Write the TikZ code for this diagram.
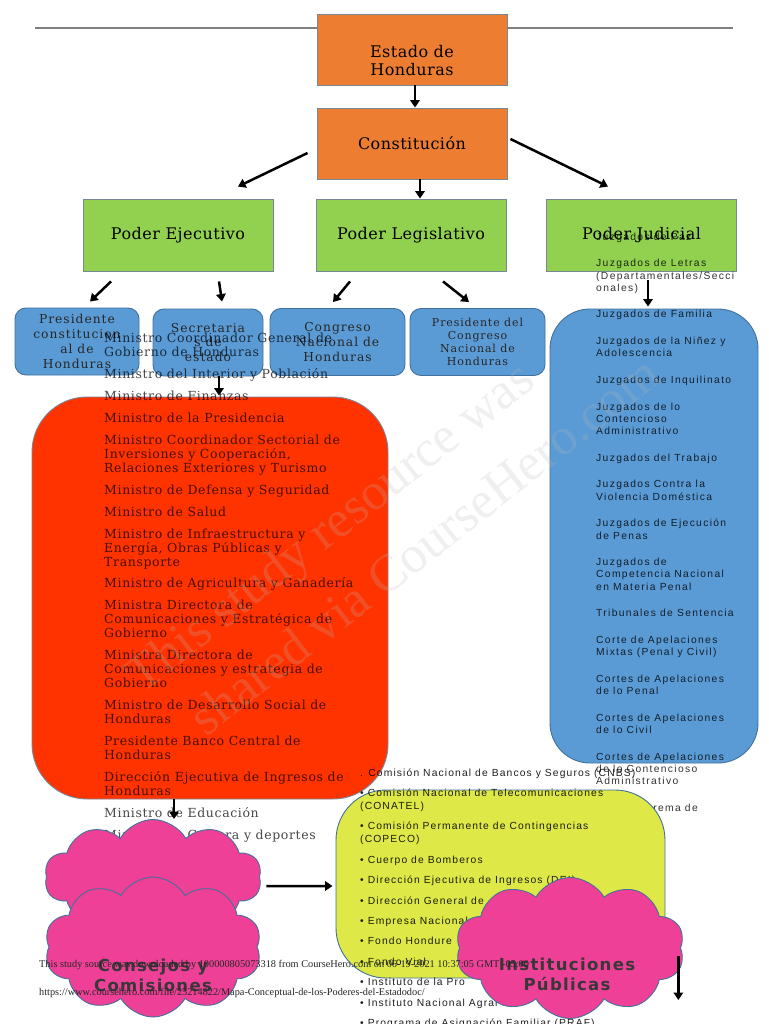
\documentclass[tikz,border=0pt]{standalone}
\usepackage{fontspec}
\setmainfont{DejaVu Serif}
\newfontfamily\titlefont[LetterSpace=3]{DejaVu Serif}
\newfontfamily\listfont[LetterSpace=5]{DejaVu Serif}
\newfontfamily\boxfont[LetterSpace=8]{DejaVu Serif}
\newfontfamily\juzfont[LetterSpace=13]{Liberation Sans}
\newfontfamily\agencyfont[LetterSpace=11]{Liberation Sans}
\newfontfamily\cloudfont[LetterSpace=8]{DejaVu Sans}
\newfontfamily\srcfont{Liberation Serif}
\usetikzlibrary{positioning,shapes.symbols,arrows.meta,calc}

\definecolor{orangefill}{RGB}{237,125,49}
\definecolor{greenfill}{RGB}{146,208,80}
\definecolor{bluefill}{RGB}{91,155,213}
\definecolor{blueline}{RGB}{65,113,156}
\definecolor{redfill}{RGB}{255,51,0}
\definecolor{yellowfill}{RGB}{222,233,72}
\definecolor{pinkfill}{RGB}{238,64,150}
\definecolor{boxline}{RGB}{120,135,150}

\begin{document}
\begin{tikzpicture}[x=1pt, y=-1pt,
				title/.style={font=\titlefont\fontsize{16}{18}\selectfont, align=center},
				headbox/.style={rectangle, fill=orangefill, draw=boxline, line width=0.9pt, minimum width=190, minimum height=71, title},
				powerbox/.style={rectangle, fill=greenfill, draw=boxline, line width=0.9pt, minimum width=190, minimum height=72, title},
				officebox/.style={rectangle, rounded corners=11pt, fill=bluefill, draw=blueline, line width=0.9pt, minimum height=67, align=center, text=black!85, font=\boxfont\fontsize{12.3}{14.8}\selectfont},
				bigbox/.style={rectangle, fill=#1, draw=boxline, line width=0.9pt},
				bubble/.style={cloud, cloud puffs=10, cloud puff arc=120, aspect=1.9, fill=pinkfill, draw=blueline, line width=0.9pt},
				ministry/.style={anchor=north west, inner sep=0, align=left, text=black, text opacity=0.72, font=\listfont\fontsize{12.5}{14}\selectfont},
				courts/.style={anchor=north west, inner sep=0, align=left, text=black, text opacity=0.8, font=\juzfont\fontsize{10.3}{12.3}\selectfont},
				agency/.style={anchor=north west, inner sep=0, align=left, text=black, text opacity=0.88, font=\agencyfont\fontsize{10.3}{13}\selectfont},
				cloudtext/.style={align=center, text=black!78, font=\cloudfont\bfseries\fontsize{16.5}{20}\selectfont},
				stamp/.style={rotate=38, text=gray!55, text opacity=0.22, font=\srcfont\fontsize{52}{60}\selectfont},
				srcline/.style={anchor=base west, inner sep=0, text=black!85, font=\srcfont\fontsize{10.3}{12}\selectfont}
			]
			\fill[white] (0,0) rectangle (768,1024);
			\useasboundingbox (0,0) rectangle (768,1024);
			\draw[gray, line width=1.2pt] (35,28) -- (733,28);
			% top of the chart
			\node[headbox] (est) at (412,49.5) {};
			\node[title] (esttext) at ([yshift=-11.5pt]est.center) {Estado de\\Honduras};
			\node[headbox] (const) at (412,143.5) {Constitución};
			\node[powerbox] (ejec) at (178,235) {Poder Ejecutivo};
			\node[powerbox] (legis) at (411,235) {Poder Legislativo};
			\node[powerbox] (jud) at (641.5,235) {Poder Judicial};
			\node[officebox, minimum width=124] (pres) at (77,341.5) {Presidente\\constitucion\\al de\\Honduras};
			\node[officebox, minimum width=110] (secr) at (208,342.5) {Secretaria\\s de\\estado};
			\node[officebox, minimum width=135] (cong) at (337.5,342) {Congreso\\Nacional de\\Honduras};
			\node[officebox, minimum width=135, font=\boxfont\fontsize{11}{13}\selectfont] (pcong) at (477.5,342) {Presidente del\\Congreso\\Nacional de\\Honduras};
			% executive
			\node[bigbox=redfill, rounded corners=55pt, minimum width=356, minimum height=402] (red) at (210,598) {};
			\node[ministry] (ministros) at (104,333) {Ministro Coordinador General de\\Gobierno de Honduras\\[7.9pt]
				Ministro del Interior y Población\\[7.9pt]
				Ministro de Finanzas\\[7.9pt]
				Ministro de la Presidencia\\[7.9pt]
				Ministro Coordinador Sectorial de\\Inversiones y Cooperación,\\Relaciones Exteriores y Turismo\\[7.9pt]
				Ministro de Defensa y Seguridad\\[7.9pt]
				Ministro de Salud\\[7.9pt]
				Ministro de Infraestructura y\\Energía, Obras Públicas y\\Transporte\\[7.9pt]
				Ministro de Agricultura y Ganadería\\[7.9pt]
				Ministra Directora de\\Comunicaciones y Estratégica de\\Gobierno\\[7.9pt]
				Ministra Directora de\\Comunicaciones y estrategia de\\Gobierno\\[7.9pt]
				Ministro de Desarrollo Social de\\Honduras\\[7.9pt]
				Presidente Banco Central de\\Honduras\\[7.9pt]
				Dirección Ejecutiva de Ingresos de\\Honduras\\[7.9pt]
				Ministro de Educación\\[7.9pt]
				Ministro de Cultura y deportes};
			% judicial
			\node[bigbox=bluefill, draw=blueline, rounded corners=40pt, minimum width=208, minimum height=454] (jblue) at (654,536) {};
			\node[courts] (juzgados) at (596,232.5) {Juzgados de Paz\\[14.3pt]
				Juzgados de Letras\\(Departamentales/Secci\\onales)\\[14.3pt]
				Juzgados de Familia\\[14.3pt]
				Juzgados de la Niñez y\\Adolescencia\\[14.3pt]
				Juzgados de Inquilinato\\[14.3pt]
				Juzgados de lo\\Contencioso\\Administrativo\\[14.3pt]
				Juzgados del Trabajo\\[14.3pt]
				Juzgados Contra la\\Violencia Doméstica\\[14.3pt]
				Juzgados de Ejecución\\de Penas\\[14.3pt]
				Juzgados de\\Competencia Nacional\\en Materia Penal\\[14.3pt]
				Tribunales de Sentencia\\[14.3pt]
				Corte de Apelaciones\\Mixtas (Penal y Civil)\\[14.3pt]
				Cortes de Apelaciones\\de lo Penal\\[14.3pt]
				Cortes de Apelaciones\\de lo Civil\\[14.3pt]
				Cortes de Apelaciones\\de lo Contencioso\\Administrativo\\[14.3pt]
				Corte Suprema de};
			% public institutions
			\node[bigbox=yellowfill, draw=blueline, rounded corners=50pt, minimum width=329, minimum height=188] (yel) at (500.5,884) {};
			\node[agency] (agencias) at (360,768.3) {. Comisión Nacional de Bancos y Seguros (CNBS)\\[7.4pt]
				• Comisión Nacional de Telecomunicaciones\\(CONATEL)\\[7.4pt]
				• Comisión Permanente de Contingencias\\(COPECO)\\[7.4pt]
				• Cuerpo de Bomberos\\[7.4pt]
				• Dirección Ejecutiva de Ingresos (DEI)\\[7.4pt]
				• Dirección General de\\[7.4pt]
				• Empresa Nacional\\[7.4pt]
				• Fondo Hondure\\[7.4pt]
				• Fondo Vial\\[7.4pt]
				• Instituto de la Pro\\[7.4pt]
				• Instituto Nacional Agrar\\[7.4pt]
				• Programa de Asignación Familiar (PRAF)};
			% clouds
			\node[bubble, minimum width=217, minimum height=115] (cloudA) at (153,877) {};
			\node[bubble, minimum width=217, minimum height=140] (cloudB) at (153,947) {};
			\node[cloudtext] (consejos) at (153,975) {Consejos y\\Comisiones};
			\node[bubble, minimum width=229, minimum height=141] (cloudC) at (570,948) {};
			\node[cloudtext] (instituciones) at (567,974) {Instituciones\\Públicas};
			\coordinate (instend) at ([xshift=-2.5pt, yshift=-52pt]cloudC.east);
			\begin{scope}[line width=2.5pt, -{Triangle[length=7.5pt,width=9.5pt]}]
			\draw ([xshift=3pt]est.south) -- ([xshift=3pt]const.north);
			\draw ([xshift=-9pt, yshift=-9.5pt]const.west) -- ([xshift=60pt, yshift=12pt]ejec.north);
			\draw ([xshift=8pt]const.south) -- ([xshift=9pt]legis.north);
			\draw ([xshift=3pt, yshift=4.5pt]const.east) -- ([xshift=-33.5pt, yshift=12pt]jud.north);
			\draw ([xshift=28.5pt, yshift=-10pt]ejec.south west) -- ([xshift=13pt, yshift=6pt]pres.north);
			\draw ([xshift=41pt, yshift=-10pt]ejec.south) -- ([xshift=14pt, yshift=7pt]secr.north);
			\draw ([xshift=-61pt, yshift=-10pt]legis.south) -- ([xshift=-4.5pt, yshift=6pt]cong.north);
			\draw ([xshift=32pt, yshift=-10pt]legis.south) -- ([xshift=-8.5pt, yshift=6pt]pcong.north);
			\draw ([xshift=11pt]secr.south) -- ([xshift=9pt, yshift=1pt]red.north);
			\draw ([xshift=6.5pt, yshift=-9pt]jud.south) -- ([xshift=-6pt, yshift=2pt]jblue.north);
			\draw ([xshift=-36pt]red.south) -- ([xshift=21pt]cloudA.north);
			\draw ([xshift=6.5pt, yshift=-9pt]cloudA.east) -- ([xshift=-3pt, yshift=-2pt]yel.west);
			\draw ([xshift=-2.5pt, yshift=-8pt]cloudC.east) -- (instend);
			\end{scope}
			% watermark and source lines
			\node[stamp] (stampA) at (332,530) {This study resource was};
			\node[stamp] (stampB) at (424,545) {shared via CourseHero.com};
			\node[srcline] (srcA) at (39,967.5) {This study source was downloaded by 100000805073318 from CourseHero.com on 06-19-2021 10:37:05 GMT -05:00};
			\node[srcline] (srcB) at (39,995.5) {https://www.coursehero.com/file/25214822/Mapa-Conceptual-de-los-Poderes-del-Estadodoc/};
			\end{tikzpicture}
\end{document}
